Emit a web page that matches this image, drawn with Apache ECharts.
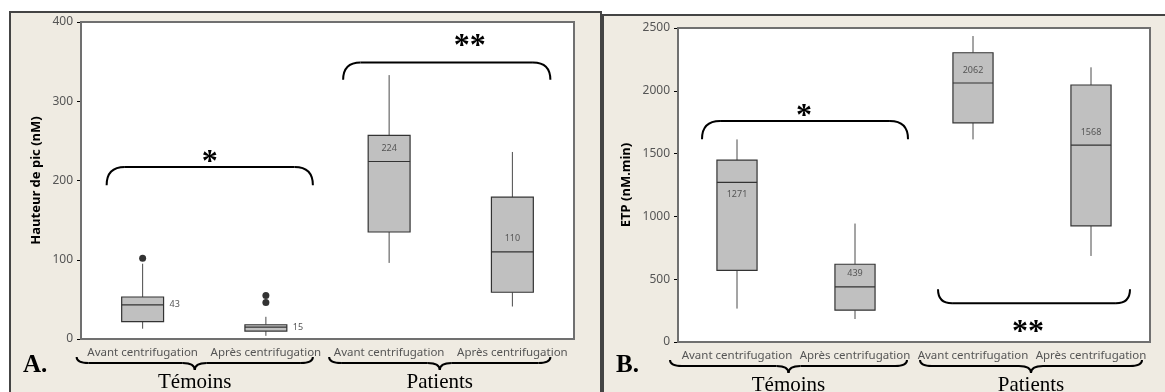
<!DOCTYPE html>
<html>
<head>
<meta charset="utf-8">
<script src="https://cdn.jsdelivr.net/npm/echarts@6/dist/echarts.min.js"></script>
<style>
  html, body { margin: 0; padding: 0; background: #fff; }
  #main { width: 1165px; height: 392px; }
</style>
</head>
<body>
<div id="main"></div>
<script>
var categories = ['Avant centrifugation', 'Après centrifugation', 'Avant centrifugation', 'Après centrifugation'];

// A. Hauteur de pic (nM)
var peakWhiskerLow = [13, 4, 96, 41];
var peakQ1 = [22, 10, 135, 59];
var peakMedian = [43, 15, 224, 110];
var peakQ3 = [53, 18, 257, 179];
var peakWhiskerHigh = [95, 28, 333, 236];
var peakOutliers = [[0, 102], [1, 55], [1, 46]];
var peakTicks = [0, 100, 200, 300, 400];

// B. ETP (nM.min)
var etpWhiskerLow = [266, 183, 1613, 685];
var etpQ1 = [571, 253, 1745, 925];
var etpMedian = [1271, 439, 2062, 1568];
var etpQ3 = [1448, 619, 2303, 2046];
var etpWhiskerHigh = [1613, 943, 2436, 2187];
var etpTicks = [0, 500, 1000, 1500, 2000, 2500];

var peakLabelSide = ['right', 'right', 'above', 'above'];
var etpLabelSide = ['below', 'above', 'above', 'above'];

function boxRows(lo, q1, md, q3, hi) {
    var rows = [];
    for (var i = 0; i < lo.length; i++) {
        rows.push([i, lo[i], q1[i], md[i], q3[i], hi[i]]);
    }
    return rows;
}

function boxItem(sides) {
    return function (params, api) {
        var i = api.value(0);
        var lo = api.coord([i, api.value(1)]);
        var q1 = api.coord([i, api.value(2)]);
        var md = api.coord([i, api.value(3)]);
        var q3 = api.coord([i, api.value(4)]);
        var hi = api.coord([i, api.value(5)]);
        var bw = api.size([1, 0])[0] * 0.34;
        var x = md[0];
        var side = sides[params.dataIndex];
        var lx = x, ly = md[1] - 13, align = 'center';
        if (side === 'right') { lx = x + bw / 2 + 6; ly = md[1]; align = 'left'; }
        if (side === 'below') { ly = md[1] + 12; }
        var whisker = { stroke: '#4a4a4a', lineWidth: 1 };
        return {
            type: 'group',
            children: [
                { type: 'line', shape: { x1: x, y1: hi[1], x2: x, y2: q3[1] }, style: whisker },
                { type: 'line', shape: { x1: x, y1: q1[1], x2: x, y2: lo[1] }, style: whisker },
                { type: 'rect', shape: { x: x - bw / 2, y: q3[1], width: bw, height: q1[1] - q3[1] },
                  style: { fill: '#c0c0c0', stroke: '#333', lineWidth: 1.2 } },
                { type: 'line', shape: { x1: x - bw / 2, y1: md[1], x2: x + bw / 2, y2: md[1] },
                  style: { stroke: '#333', lineWidth: 1.2 } },
                { type: 'text', x: lx, y: ly,
                  style: { text: String(api.value(3)), fill: '#555', font: '9px "Noto Sans"',
                           align: align, verticalAlign: 'middle' } }
            ]
        };
    };
}

function xAxisFor(gridIndex) {
    return {
        type: 'category',
        gridIndex: gridIndex,
        data: categories,
        boundaryGap: true,
        axisLine: { lineStyle: { color: '#000', width: 1.5 } },
        axisTick: { alignWithLabel: true, length: 4, lineStyle: { color: '#000' } },
        axisLabel: { interval: 0, color: '#555', fontSize: 11.5, fontFamily: 'Noto Sans', margin: 8 },
        splitLine: { show: false }
    };
}

function yAxisFor(gridIndex, ticks, name, gap) {
    return {
        type: 'value',
        gridIndex: gridIndex,
        min: ticks[0],
        max: ticks[ticks.length - 1],
        interval: ticks[1] - ticks[0],
        name: name,
        nameLocation: 'middle',
        nameGap: gap,
        nameTextStyle: { color: '#000', fontWeight: 'bold', fontSize: 13, fontFamily: 'Noto Sans' },
        axisLine: { show: true, lineStyle: { color: '#000', width: 1.5 } },
        axisTick: { show: true, length: 4, lineStyle: { color: '#000' } },
        axisLabel: { color: '#555', fontSize: 12, fontFamily: 'Noto Sans', margin: 8,
                     formatter: function (v) { return String(v); } },
        splitLine: { show: false }
    };
}

var myChart = echarts.init(document.getElementById('main'));
var option = {
    animation: false,
    grid: [
        { left: 81, top: 22, width: 493, height: 317, show: true, backgroundColor: '#fff',
          borderColor: '#707070', borderWidth: 2, z: 1 },
        { left: 678, top: 28, width: 472, height: 314, show: true, backgroundColor: '#fff',
          borderColor: '#707070', borderWidth: 2, z: 1 }
    ],
    xAxis: [xAxisFor(0), xAxisFor(1)],
    yAxis: [
        yAxisFor(0, peakTicks, 'Hauteur de pic (nM)', 38),
        yAxisFor(1, etpTicks, 'ETP (nM.min)', 45)
    ],
    series: [
        {
            type: 'custom', xAxisIndex: 0, yAxisIndex: 0,
            renderItem: boxItem(peakLabelSide),
            encode: { x: 0, y: [1, 2, 3, 4, 5] },
            data: boxRows(peakWhiskerLow, peakQ1, peakMedian, peakQ3, peakWhiskerHigh)
        },
        {
            type: 'scatter', xAxisIndex: 0, yAxisIndex: 0,
            symbol: 'circle', symbolSize: 7,
            itemStyle: { color: '#000' },
            data: peakOutliers
        },
        {
            type: 'custom', xAxisIndex: 1, yAxisIndex: 1,
            renderItem: boxItem(etpLabelSide),
            encode: { x: 0, y: [1, 2, 3, 4, 5] },
            data: boxRows(etpWhiskerLow, etpQ1, etpMedian, etpQ3, etpWhiskerHigh)
        }
    ]
};
myChart.setOption(option);

// significance brackets and group braces, anchored to the axes
var brackets = [
    { grid: 0, from: 0, to: 1, padFrom: 36, padTo: 47, line: 217, end: 194, stars: '*', dx: 0, dy: -12 },
    { grid: 0, from: 2, to: 3, padFrom: 46, padTo: 38, line: 349, end: 327, stars: '**', dx: 23, dy: -24 },
    { grid: 1, from: 0, to: 1, padFrom: 35, padTo: 53, line: 1759, end: 1615, stars: '*', dx: -1, dy: -12 },
    { grid: 1, from: 2, to: 3, padFrom: 35, padTo: 39, line: 308, end: 420, stars: '**', dx: -6, dy: 21 }
];
var braces = [
    { grid: 0, from: 0, to: 1, padFrom: 66, padTo: 47, label: 'Témoins' },
    { grid: 0, from: 2, to: 3, padFrom: 60, padTo: 38, label: 'Patients' },
    { grid: 1, from: 0, to: 1, padFrom: 67, padTo: 52, label: 'Témoins' },
    { grid: 1, from: 2, to: 3, padFrom: 53, padTo: 51, label: 'Patients' }
];

function px(g, cat, v) {
    return myChart.convertToPixel({ gridIndex: g }, [cat, v]);
}

var stroke = { stroke: '#000', lineWidth: 2, fill: null };
function seg(x1, y1, x2, y2) {
    return { type: 'line', z: 100, shape: { x1: x1, y1: y1, x2: x2, y2: y2 }, style: stroke };
}
function curve(x1, y1, cx, cy, x2, y2) {
    return { type: 'bezierCurve', z: 100,
             shape: { x1: x1, y1: y1, cpx1: cx, cpy1: cy, x2: x2, y2: y2 }, style: stroke };
}

var graphic = [
    { type: 'rect', z: -10, shape: { x: 10, y: 12, width: 591, height: 400 },
      style: { fill: '#efebe2', stroke: '#444', lineWidth: 2 } },
    { type: 'rect', z: -10, shape: { x: 603, y: 15, width: 580, height: 400 },
      style: { fill: '#efebe2', stroke: '#444', lineWidth: 2 } },
    { type: 'text', z: 100, x: 23, y: 378,
      style: { text: 'A.', font: 'bold 25px "Liberation Serif"', fill: '#000', verticalAlign: 'bottom' } },
    { type: 'text', z: 100, x: 616, y: 378,
      style: { text: 'B.', font: 'bold 25px "Liberation Serif"', fill: '#000', verticalAlign: 'bottom' } }
];

brackets.forEach(function (b) {
    var a = px(b.grid, b.from, b.line);
    var c = px(b.grid, b.to, b.end);
    var xL = a[0] - b.padFrom, xR = c[0] + b.padTo;
    var yL = a[1], yE = c[1];
    var r = Math.abs(yE - yL);
    graphic.push(curve(xL, yE, xL, yL, xL + r, yL));
    graphic.push(seg(xL + r, yL, xR - r, yL));
    graphic.push(curve(xR - r, yL, xR, yL, xR, yE));
    graphic.push({
        type: 'text', z: 100, x: (xL + xR) / 2 + b.dx, y: yL + b.dy + 8,
        style: { text: b.stars, font: 'bold 32px "Liberation Serif"', fill: '#000',
                 align: 'center', verticalAlign: 'middle' }
    });
});

braces.forEach(function (b) {
    var a = px(b.grid, b.from, 0);
    var c = px(b.grid, b.to, 0);
    var x1 = a[0] - b.padFrom, x2 = c[0] + b.padTo, xm = (x1 + x2) / 2;
    var yA = a[1] + 18, yL = a[1] + 24, yT = a[1] + 31;
    var r = 12;
    graphic.push(curve(x1, yA, x1, yL, x1 + r, yL));
    graphic.push(seg(x1 + r, yL, xm - r, yL));
    graphic.push(curve(xm - r, yL, xm, yL, xm, yT));
    graphic.push(curve(xm, yT, xm, yL, xm + r, yL));
    graphic.push(seg(xm + r, yL, x2 - r, yL));
    graphic.push(curve(x2 - r, yL, x2, yL, x2, yA));
    graphic.push({
        type: 'text', z: 100, x: xm, y: a[1] + 43,
        style: { text: b.label, font: '21px "Liberation Serif"', fill: '#000',
                 align: 'center', verticalAlign: 'middle' }
    });
});

myChart.setOption({ graphic: graphic });
</script>
</body>
</html>
